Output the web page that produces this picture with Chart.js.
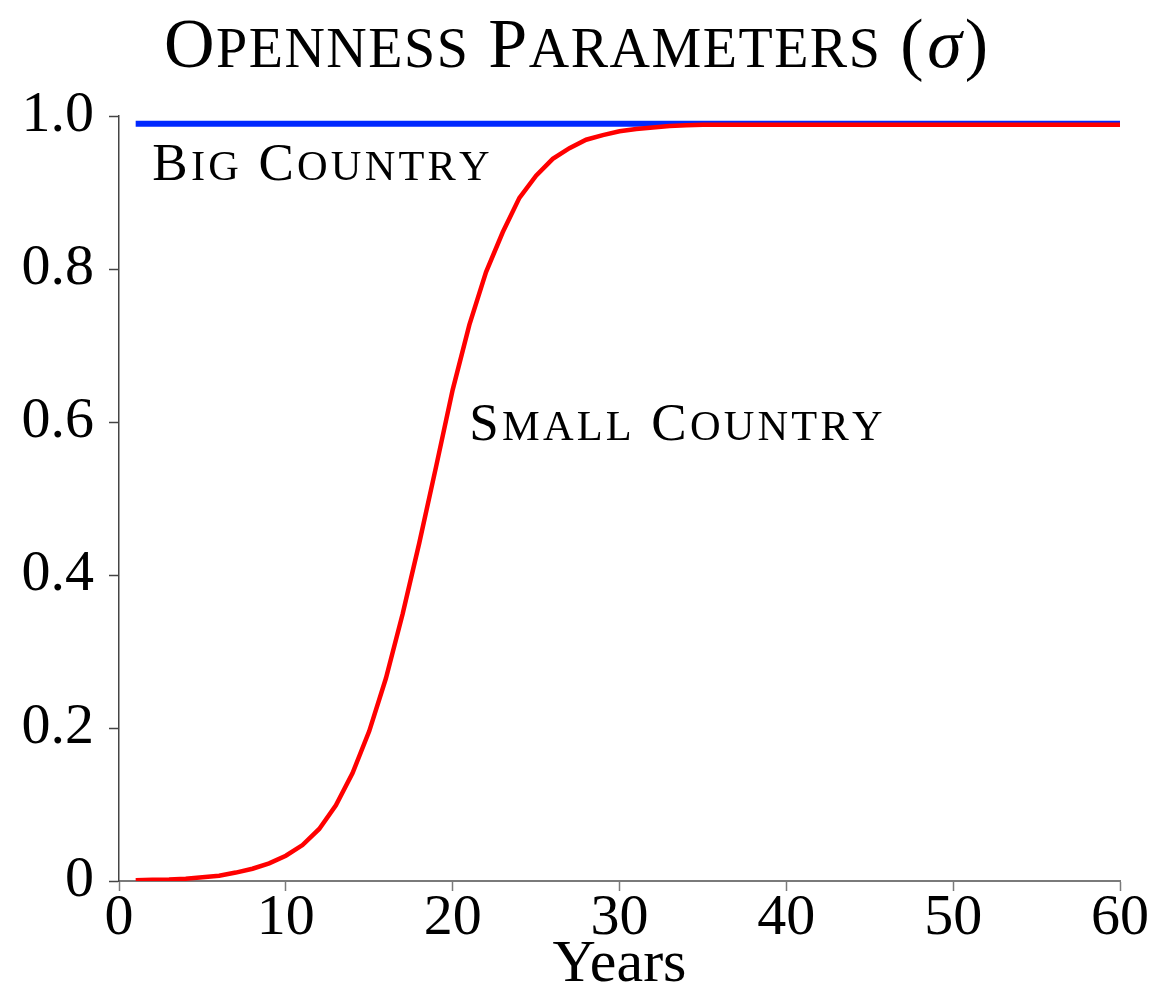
<!DOCTYPE html>
<html>
<head>
<meta charset="utf-8">
<script src="https://cdn.jsdelivr.net/npm/chart.js@4/dist/chart.umd.min.js"></script>
<style>
  html, body { margin: 0; padding: 0; background: #ffffff; }
  #wrap { width: 1153px; height: 992px; position: relative; }
</style>
</head>
<body>
<div id="wrap"><canvas id="c" width="1153" height="992"></canvas></div>
<script>
// Years on the horizontal axis
const years = [1, 2, 3, 4, 5, 6, 7, 8, 9, 10,
  11, 12, 13, 14, 15, 16, 17, 18, 19, 20,
  21, 22, 23, 24, 25, 26, 27, 28, 29, 30,
  31, 32, 33, 34, 35, 36, 37, 38, 39, 40,
  41, 42, 43, 44, 45, 46, 47, 48, 49, 50,
  51, 52, 53, 54, 55, 56, 57, 58, 59, 60];

// Openness of the big country: constant
const bigCountry = [0.99, 0.99, 0.99, 0.99, 0.99, 0.99, 0.99, 0.99, 0.99, 0.99,
  0.99, 0.99, 0.99, 0.99, 0.99, 0.99, 0.99, 0.99, 0.99, 0.99,
  0.99, 0.99, 0.99, 0.99, 0.99, 0.99, 0.99, 0.99, 0.99, 0.99,
  0.99, 0.99, 0.99, 0.99, 0.99, 0.99, 0.99, 0.99, 0.99, 0.99,
  0.99, 0.99, 0.99, 0.99, 0.99, 0.99, 0.99, 0.99, 0.99, 0.99,
  0.99, 0.99, 0.99, 0.99, 0.99, 0.99, 0.99, 0.99, 0.99, 0.99];

// Openness of the small country: gradual opening
const smallCountry = [0.001, 0.0015, 0.002, 0.003, 0.005, 0.007, 0.011, 0.016, 0.023, 0.033,
  0.047, 0.068, 0.099, 0.141, 0.196, 0.265, 0.349, 0.442, 0.541, 0.642,
  0.727, 0.796, 0.848, 0.893, 0.922, 0.944, 0.958, 0.969, 0.975, 0.980,
  0.983, 0.985, 0.987, 0.988, 0.9885, 0.9885, 0.9885, 0.9885, 0.9885, 0.9885,
  0.9885, 0.9885, 0.9885, 0.9885, 0.9885, 0.9885, 0.9885, 0.9885, 0.9885, 0.9885,
  0.9885, 0.9885, 0.9885, 0.9885, 0.9885, 0.9885, 0.9885, 0.9885, 0.9885, 0.9885];

const xTicks = [0, 10, 20, 30, 40, 50, 60];
const yTicks = [0, 0.2, 0.4, 0.6, 0.8, 1.0];

const titleText = 'Openness Parameters (';
const titleSymbol = 'σ';
const xAxisTitle = 'Years';
const seriesNames = ['Big Country', 'Small Country'];

const FAMILY = '"Liberation Serif", "DejaVu Serif", serif';

// Small capitals: capitals at full size, lower-case letters as reduced capitals
function smallCapsRuns(text) {
  const runs = [];
  for (const ch of text) {
    const small = ch !== ch.toUpperCase();
    const last = runs[runs.length - 1];
    if (last && last.small === small) last.s += small ? ch.toUpperCase() : ch;
    else runs.push({ small, s: small ? ch.toUpperCase() : ch });
  }
  return runs;
}
function measureSC(ctx, text, size, ratio, spacing) {
  let w = 0;
  for (const r of smallCapsRuns(text)) {
    ctx.font = (r.small ? size * ratio : size) + 'px ' + FAMILY;
    for (const ch of r.s) w += ctx.measureText(ch).width + spacing;
  }
  return w;
}
function drawSC(ctx, text, x, y, size, ratio, spacing) {
  let cx = x;
  for (const r of smallCapsRuns(text)) {
    ctx.font = (r.small ? size * ratio : size) + 'px ' + FAMILY;
    for (const ch of r.s) {
      ctx.fillText(ch, cx, y);
      cx += ctx.measureText(ch).width + spacing;
    }
  }
  return cx;
}

const textPlugin = {
  id: 'smallCapsText',
  afterDraw(chart) {
    const ctx = chart.ctx;
    const xs = chart.scales.x, ys = chart.scales.y;
    ctx.save();
    ctx.fillStyle = '#000000';
    ctx.textBaseline = 'alphabetic';
    ctx.textAlign = 'left';

    // Title with italic sigma
    const tSize = 70, tRatio = 0.8, tSp = 1.5;
    const w1 = measureSC(ctx, titleText, tSize, tRatio, tSp);
    ctx.font = 'italic ' + tSize + 'px ' + FAMILY;
    const w2 = ctx.measureText(titleSymbol).width + 5;
    ctx.font = tSize + 'px ' + FAMILY;
    const w3 = ctx.measureText(')').width;
    let tx = 576 - (w1 + w2 + w3) / 2;
    const ty = 67;
    tx = drawSC(ctx, titleText, tx, ty, tSize, tRatio, tSp);
    ctx.font = 'italic ' + tSize + 'px ' + FAMILY;
    ctx.fillText(titleSymbol, tx + 2, ty);
    tx += w2;
    ctx.font = tSize + 'px ' + FAMILY;
    ctx.fillText(')', tx, ty);

    // Series labels placed in data coordinates
    const lSize = 53, lRatio = 0.8, lSp = 3.2;
    drawSC(ctx, seriesNames[0], xs.getPixelForValue(2), ys.getPixelForValue(0.916), lSize, lRatio, lSp);
    drawSC(ctx, seriesNames[1], xs.getPixelForValue(21), ys.getPixelForValue(0.576), lSize, lRatio, lSp);
    ctx.restore();
  }
};

const ctx = document.getElementById('c').getContext('2d');
new Chart(ctx, {
  type: 'line',
  data: {
    labels: years,
    datasets: [
      {
        label: seriesNames[1],
        data: years.map((x, i) => ({ x, y: smallCountry[i] })),
        borderColor: '#ff0000',
        borderWidth: 4.5,
        pointRadius: 0,
        tension: 0,
        order: 0
      },
      {
        label: seriesNames[0],
        data: years.map((x, i) => ({ x, y: bigCountry[i] })),
        borderColor: '#0028ff',
        borderWidth: 6,
        pointRadius: 0,
        tension: 0,
        order: 1
      }
    ]
  },
  options: {
    responsive: false,
    animation: false,
    layout: { padding: { top: 116, right: 33, left: 0, bottom: 0 } },
    plugins: {
      legend: { display: false },
      tooltip: { enabled: false },
      title: { display: false }
    },
    scales: {
      x: {
        type: 'linear',
        min: 0,
        max: 60,
        afterBuildTicks(s) { s.ticks = xTicks.map(v => ({ value: v })); },
        afterFit(s) { s.height = 111; },
        border: { display: true, color: '#7a7a7a', width: 2 },
        grid: { drawOnChartArea: false, drawTicks: true, tickLength: 10, color: '#7a7a7a', tickWidth: 1.5 },
        ticks: {
          color: '#000000',
          padding: -1,
          maxRotation: 0,
          font: { family: FAMILY, size: 58, lineHeight: 1 },
          callback: v => String(v)
        },
        title: {
          display: true,
          text: xAxisTitle,
          color: '#000000',
          padding: { top: 0, bottom: -9 },
          font: { family: FAMILY, size: 60, lineHeight: 1.2 }
        }
      },
      y: {
        min: 0,
        max: 1,
        afterBuildTicks(s) { s.ticks = yTicks.map(v => ({ value: v })); },
        afterFit(s) { s.width = 119; },
        border: { display: true, color: '#444444', width: 1.5 },
        grid: { drawOnChartArea: false, drawTicks: true, tickLength: 10, color: '#444444', tickWidth: 1.5 },
        ticks: {
          color: '#000000',
          padding: 15,
          font: { family: FAMILY, size: 58 },
          callback: v => (v === 0 ? '0' : v.toFixed(1))
        }
      }
    }
  },
  plugins: [textPlugin]
});
</script>
</body>
</html>
